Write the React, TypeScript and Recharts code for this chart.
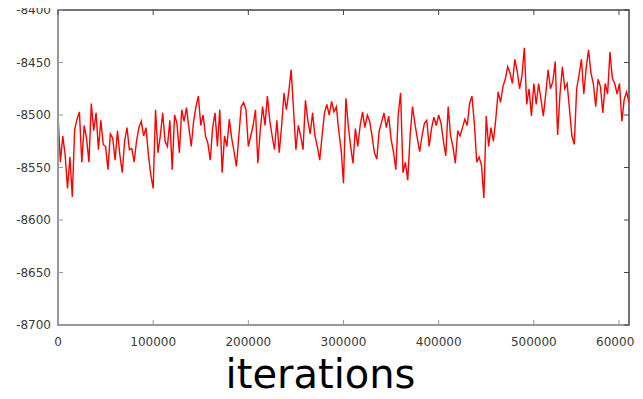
import { Label, Line, LineChart, ReferenceArea, XAxis, YAxis } from 'recharts';

// log-likelihood trace, one reading every 2500 iterations
const STEP = 2500;
const trace0to100k = [
	-8500, -8545, -8520, -8538, -8570, -8540, -8578, -8514, -8504, -8497, -8545, -8510, -8522, -8545,
	-8489, -8515, -8498, -8533, -8505, -8528, -8530, -8552, -8518, -8522, -8543, -8515, -8538, -8555,
	-8525, -8512, -8533, -8532, -8545, -8525, -8512, -8506, -8520, -8512, -8538, -8557, -8570,
];
const trace100to200k = [
	-8495, -8536, -8520, -8498, -8525, -8530, -8505, -8552, -8500, -8508, -8536, -8495, -8506, -8493,
	-8512, -8530, -8506, -8492, -8482, -8510, -8500, -8520, -8527, -8543, -8512, -8498, -8530, -8495,
	-8555, -8520, -8530, -8504, -8522, -8535, -8549, -8520, -8492, -8488, -8495, -8530,
];
const trace200to300k = [
	-8520, -8510, -8495, -8546, -8515, -8492, -8510, -8482, -8505, -8520, -8533, -8505, -8536, -8510,
	-8479, -8495, -8478, -8457, -8495, -8533, -8510, -8520, -8533, -8486, -8505, -8518, -8498, -8520,
	-8530, -8543, -8520, -8498, -8490, -8500, -8487, -8497, -8492, -8515, -8533, -8565,
];
const trace300to400k = [
	-8484, -8510, -8530, -8546, -8513, -8530, -8510, -8497, -8512, -8500, -8506, -8520, -8536, -8542,
	-8515, -8507, -8498, -8512, -8501, -8523, -8535, -8552, -8500, -8479, -8555, -8545, -8562, -8520,
	-8492, -8508, -8522, -8535, -8520, -8508, -8505, -8530, -8513, -8502, -8510, -8500,
];
const trace400to500k = [
	-8508, -8525, -8539, -8492, -8520, -8530, -8546, -8515, -8520, -8512, -8504, -8510, -8489, -8482,
	-8508, -8545, -8540, -8548, -8579, -8501, -8530, -8512, -8525, -8504, -8478, -8488, -8473, -8466,
	-8454, -8460, -8470, -8447, -8458, -8475, -8463, -8436, -8490, -8475, -8501, -8470,
];
const trace500to600k = [
	-8490, -8470, -8485, -8501, -8480, -8457, -8475, -8468, -8449, -8519, -8480, -8454, -8475, -8470,
	-8495, -8520, -8528, -8475, -8462, -8447, -8480, -8455, -8438, -8460, -8470, -8492, -8466, -8473,
	-8498, -8470, -8480, -8440, -8465, -8470, -8480, -8470, -8506, -8485, -8478, -8488,
];

const xTicks = [0, 100000, 200000, 300000, 400000, 500000, 600000];
const yTicks = [-8700, -8650, -8600, -8550, -8500, -8450, -8400];

const values = [
	...trace0to100k,
	...trace100to200k,
	...trace200to300k,
	...trace300to400k,
	...trace400to500k,
	...trace500to600k,
];
const data = values.map((v, i) => ({ iter: i * STEP, value: v }));

const W = 643;
const H = 399;
const MARGIN = { top: 10, right: 14, left: 0, bottom: 0 };
const PLOT_TOP = MARGIN.top;
const PLOT_RIGHT = W - MARGIN.right;

const FONT = '"DejaVu Sans", Verdana, sans-serif';
const LABEL_COLOR = '#3a3a3a';
const AXIS_GRAY = '#999';
const FRAME_DARK = '#444';

// ticks point inward, and are mirrored on the top / right frame
function BottomTick({ x, y, payload }: any) {
	return (
		<g>
			<line x1={x} x2={x} y1={y - 12} y2={y - 17} stroke={AXIS_GRAY} strokeWidth={1} />
			<line x1={x} x2={x} y1={PLOT_TOP} y2={PLOT_TOP + 5} stroke={FRAME_DARK} strokeWidth={1} />
			<text x={x} y={y} dy="0.71em" textAnchor="middle" fill={LABEL_COLOR} fontSize={12} fontFamily={FONT}>
				{payload.value}
			</text>
		</g>
	);
}

function LeftTick({ x, y, payload }: any) {
	return (
		<g>
			<line x1={x + 7} x2={x + 12} y1={y} y2={y} stroke={AXIS_GRAY} strokeWidth={1} />
			<line x1={PLOT_RIGHT} x2={PLOT_RIGHT - 5} y1={y} y2={y} stroke={FRAME_DARK} strokeWidth={1} />
			<text x={x} y={y} dy="0.35em" textAnchor="end" fill={LABEL_COLOR} fontSize={12} fontFamily={FONT}>
				{payload.value}
			</text>
		</g>
	);
}

export default function App() {
	return (
		<div style={{ marginTop: -8, marginLeft: -8 }}>
			<LineChart width={W} height={H} data={data} margin={MARGIN}>
				<ReferenceArea
					x1={0}
					x2={600000}
					y1={-8700}
					y2={-8400}
					fill="none"
					fillOpacity={0}
					stroke={FRAME_DARK}
					strokeWidth={1.5}
					ifOverflow="visible"
				/>
				<XAxis
					dataKey="iter"
					type="number"
					domain={[0, 600000]}
					ticks={xTicks}
					allowDataOverflow
					height={74}
					tickSize={0}
					tickMargin={12}
					tickLine={false}
					tick={<BottomTick />}
					stroke={AXIS_GRAY}
					strokeWidth={2}
					axisLine
				>
					<Label
						value="iterations"
						position="insideBottom"
						offset={11}
						dx={-23}
						fill="#000"
						stroke="none"
						fontSize={40}
						fontFamily='"Comic Sans MS", "DejaVu Sans", sans-serif'
					/>
				</XAxis>
				<YAxis
					type="number"
					domain={[-8700, -8400]}
					ticks={yTicks}
					allowDataOverflow
					width={58}
					tickSize={0}
					tickMargin={7}
					tickLine={false}
					tick={<LeftTick />}
					stroke={AXIS_GRAY}
					strokeWidth={2}
					axisLine
				/>
				<Line
					dataKey="value"
					type="linear"
					stroke="#ff0000"
					strokeWidth={1.4}
					dot={false}
					isAnimationActive={false}
				/>
			</LineChart>
		</div>
	);
}
